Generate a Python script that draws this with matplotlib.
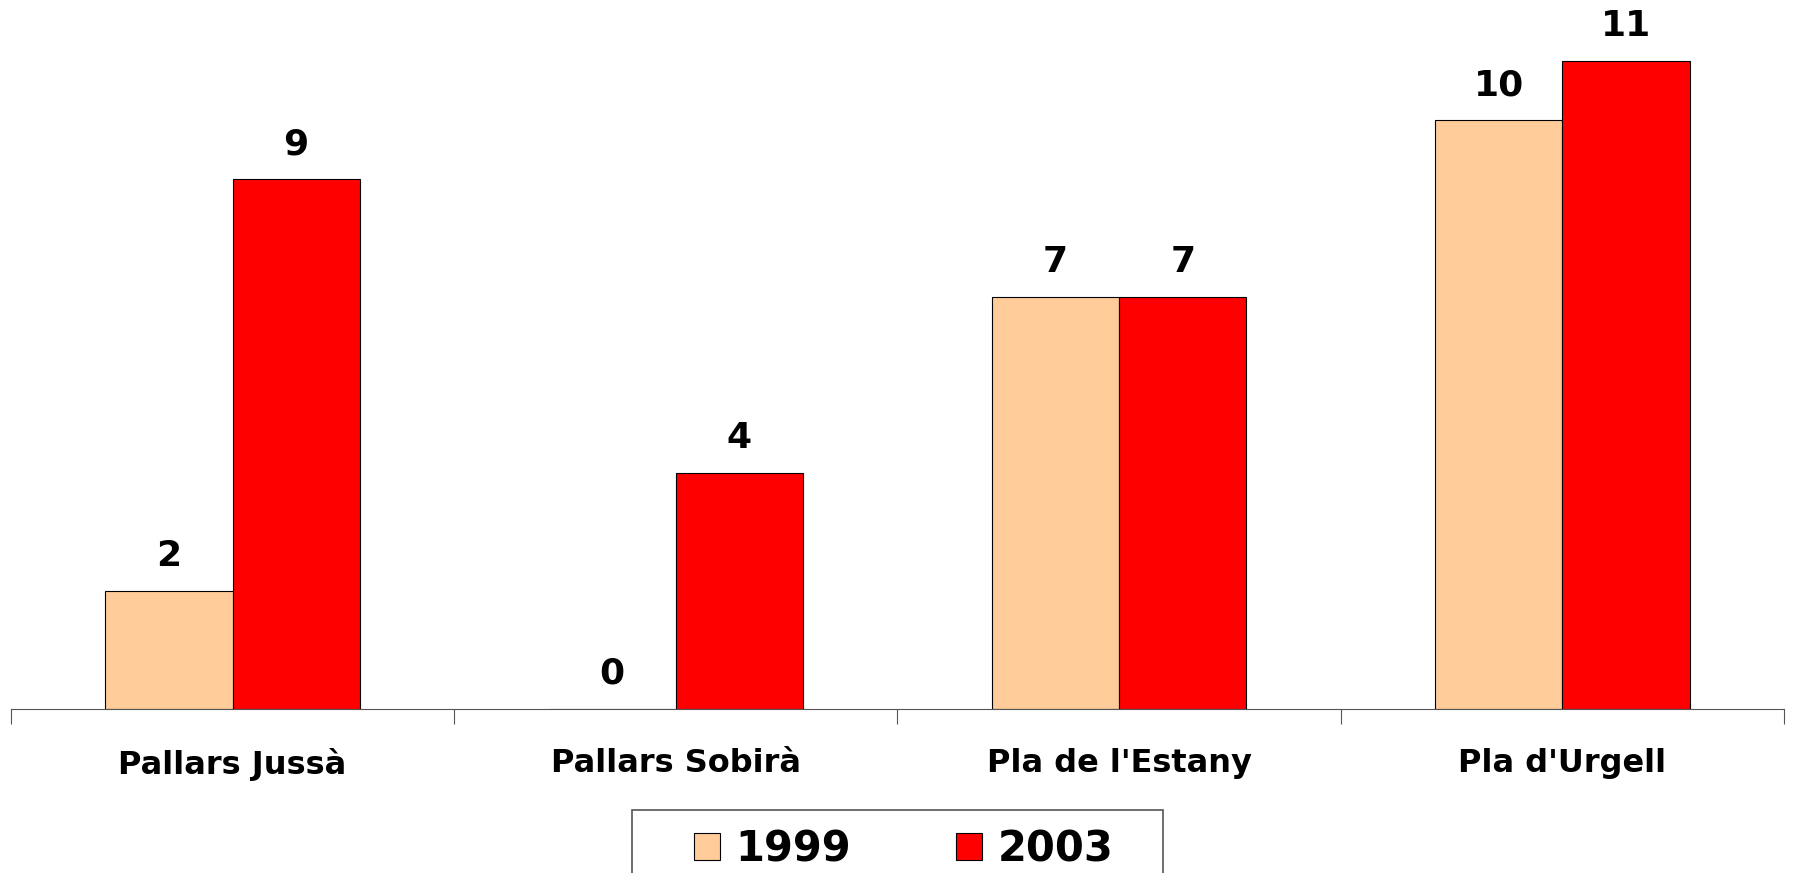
import numpy as np
import matplotlib.pyplot as plt
from matplotlib.patches import Rectangle

categories = ["Pallars Jussà", "Pallars Sobirà", "Pla de l'Estany", "Pla d'Urgell"]
years = ["1999", "2003"]
values_1999 = [2, 0, 7, 10]
values_2003 = [9, 4, 7, 11]

colors = ["#FFCC99", "#FF0000"]

W, H = 1793, 873
fig = plt.figure(figsize=(W / 100, H / 100), dpi=100)
ax = fig.add_axes([0.0061, 0.188, 0.9889, 0.809])

x = np.arange(len(categories))
w = 0.287

b1 = ax.bar(x - w / 2, values_1999, w, color=colors[0], edgecolor="black", linewidth=0.8, label=years[0])
b2 = ax.bar(x + w / 2, values_2003, w, color=colors[1], edgecolor="black", linewidth=0.8, label=years[1])

for bars in (b1, b2):
    for rect in bars:
        h = rect.get_height()
        ax.annotate(f"{h:g}", xy=(rect.get_x() + rect.get_width() / 2, h),
                    xytext=(0, 13), textcoords="offset points",
                    ha="center", va="bottom", fontsize=26, fontweight="bold")

ax.set_xlim(-0.5, len(categories) - 0.5)
ax.set_ylim(0, 12)

for s in ["left", "right", "top"]:
    ax.spines[s].set_visible(False)
ax.spines["bottom"].set_color("#555555")
ax.set_yticks([])

ax.set_xticks(np.arange(len(categories) + 1) - 0.5)
ax.set_xticklabels([])
ax.set_xticks(x, minor=True)
ax.set_xticklabels(categories, minor=True, fontsize=23, fontweight="bold")
ax.tick_params(axis="x", which="major", length=11, color="#555555")
ax.tick_params(axis="x", which="minor", length=0, pad=28)

# legend frame (runs off the bottom edge like the original)
fig.patches.append(Rectangle((632 / W, -0.05), (1163 - 632) / W, 0.05 + (1 - 810 / H),
                             transform=fig.transFigure, facecolor="none",
                             edgecolor="#555555", linewidth=1.2))

fig.legend(loc="upper left", bbox_to_anchor=(694 / W, 1 - 828 / H), ncol=2,
           frameon=False, prop={"weight": "bold", "size": 30},
           handlelength=0.62, handleheight=0.62, columnspacing=2.52,
           borderpad=0, handletextpad=0.38, borderaxespad=0)

fig.savefig("out.png", dpi=100)
